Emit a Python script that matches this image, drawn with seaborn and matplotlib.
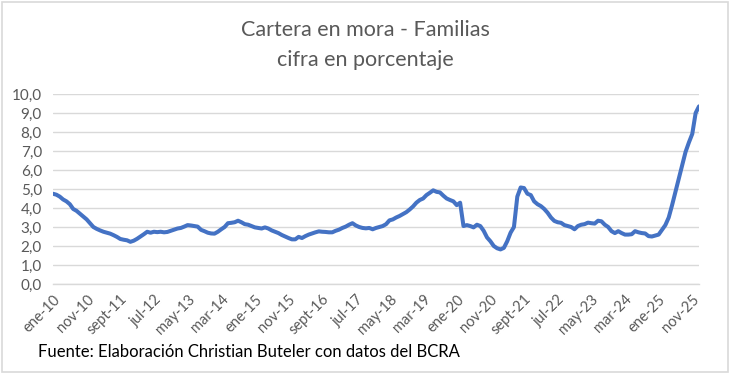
import matplotlib
matplotlib.use("Agg")
import matplotlib.pyplot as plt
import seaborn as sns
import pandas as pd
from matplotlib.patches import Rectangle

# Cartera en mora - familias, mensual desde ene-10 (en %)
mora = [
    # 2010
    4.75, 4.70, 4.60, 4.45, 4.35, 4.20, 3.95, 3.85, 3.70, 3.55, 3.40, 3.20,
    # 2011
    3.00, 2.90, 2.82, 2.75, 2.70, 2.65, 2.57, 2.48, 2.37, 2.33, 2.30, 2.22,
    # 2012
    2.28, 2.38, 2.50, 2.62, 2.75, 2.70, 2.75, 2.73, 2.75, 2.72, 2.74, 2.80,
    # 2013
    2.86, 2.92, 2.95, 3.02, 3.10, 3.08, 3.05, 3.02, 2.85, 2.78, 2.70, 2.66,
    # 2014
    2.65, 2.75, 2.88, 3.00, 3.20, 3.22, 3.25, 3.33, 3.25, 3.15, 3.12, 3.05,
    # 2015
    2.98, 2.95, 2.92, 2.98, 2.92, 2.82, 2.75, 2.68, 2.58, 2.50, 2.42, 2.35,
    # 2016
    2.35, 2.48, 2.42, 2.52, 2.60, 2.66, 2.72, 2.77, 2.75, 2.74, 2.72, 2.72,
    # 2017
    2.80, 2.86, 2.95, 3.02, 3.12, 3.20, 3.08, 3.00, 2.95, 2.93, 2.95, 2.88,
    # 2018
    2.95, 3.00, 3.05, 3.15, 3.35, 3.40, 3.50, 3.58, 3.68, 3.78, 3.92, 4.08,
    # 2019
    4.28, 4.42, 4.50, 4.68, 4.80, 4.93, 4.85, 4.82, 4.65, 4.50, 4.42, 4.35,
    # 2020
    4.15, 4.28, 3.05, 3.10, 3.05, 2.98, 3.12, 3.05, 2.80, 2.45, 2.25, 2.00,
    # 2021
    1.88, 1.82, 1.90, 2.25, 2.70, 3.00, 4.60, 5.08, 5.05, 4.75, 4.68, 4.35,
    # 2022
    4.20, 4.10, 3.95, 3.75, 3.50, 3.32, 3.25, 3.22, 3.10, 3.05, 3.00, 2.88,
    # 2023
    3.05, 3.12, 3.15, 3.23, 3.20, 3.18, 3.33, 3.30, 3.12, 3.00, 2.78, 2.68,
    # 2024
    2.78, 2.68, 2.60, 2.60, 2.62, 2.78, 2.72, 2.68, 2.66, 2.52, 2.50, 2.55,
    # 2025
    2.60, 2.85, 3.10, 3.50, 4.15, 4.85, 5.55, 6.25, 6.95, 7.45, 7.90, 9.00,
    # 2026
    9.35,
]

tick_labels = ["ene-10", "nov-10", "sept-11", "jul-12", "may-13", "mar-14",
               "ene-15", "nov-15", "sept-16", "jul-17", "may-18", "mar-19",
               "ene-20", "nov-20", "sept-21", "jul-22", "may-23", "mar-24",
               "ene-25", "nov-25"]

df = pd.DataFrame({"mes": range(len(mora)), "mora": mora})

sns.set_style("white")
plt.rcParams["font.family"] = ["Lato", "DejaVu Sans"]

gray = "#595959"
grid = "#D9D9D9"

fig = plt.figure(figsize=(7.3, 3.74), dpi=100)
ax = fig.add_axes([53 / 730, 1 - 284 / 374, 646 / 730, 190 / 374])

sns.lineplot(data=df, x="mes", y="mora", ax=ax, color="#4472C4",
             linewidth=2.9, zorder=3)

ax.set_xlim(0, len(mora) - 1)
ax.set_ylim(0, 10)
ax.set_yticks(range(0, 11))
ax.set_yticklabels([f"{v},0" for v in range(0, 11)], color=gray, fontsize=11)
ax.set_xticks(range(0, 10 * len(tick_labels), 10))
ax.set_xticklabels(tick_labels, rotation=45, ha="right",
                   rotation_mode="anchor", color=gray, fontsize=10.5)
ax.tick_params(axis="x", length=4, color=grid, width=1, pad=2, direction="out")
ax.tick_params(axis="y", length=0, pad=8)
ax.grid(axis="y", color=grid, linewidth=1)
ax.grid(axis="x", visible=False)
ax.set_xlabel("")
ax.set_ylabel("")
for side in ["left", "right", "top"]:
    ax.spines[side].set_visible(False)
ax.spines["bottom"].set_color(grid)
ax.spines["bottom"].set_linewidth(1)

fig.text(0.5, 1 - 30 / 374, "Cartera en mora - Familias", ha="center",
         va="center", fontsize=15.5, color=gray)
fig.text(0.5, 1 - 60 / 374, "cifra en porcentaje", ha="center",
         va="center", fontsize=15.5, color=gray)
fig.text(38 / 730, 1 - 352 / 374,
         "Fuente: Elaboración Christian Buteler con datos del BCRA",
         ha="left", va="center", fontsize=12, color="black")

fig.patches.append(Rectangle((0.003, 0.005), 0.994, 0.99,
                             transform=fig.transFigure, fill=False,
                             edgecolor=grid, linewidth=1.2))

fig.savefig("out.png", dpi=100, facecolor="white")
